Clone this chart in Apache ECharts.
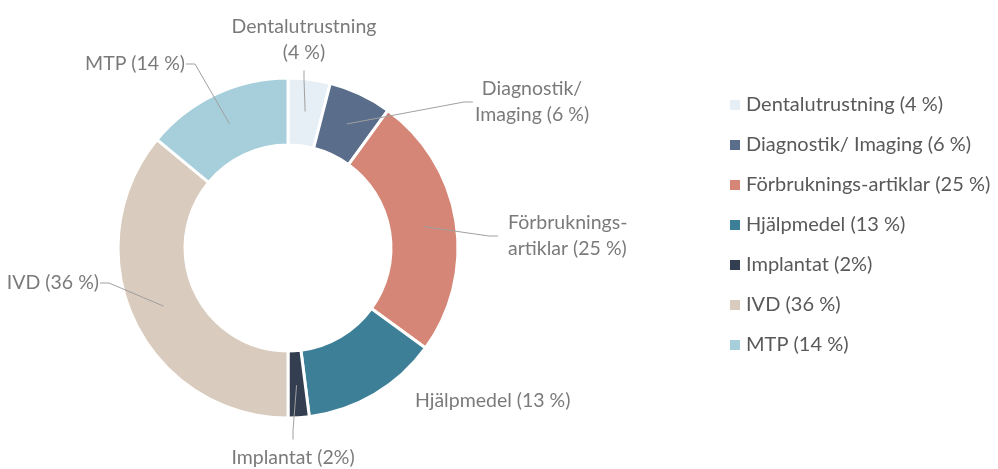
<!DOCTYPE html>
<html><head><meta charset="utf-8">
<script src="https://cdn.jsdelivr.net/npm/echarts@6/dist/echarts.min.js"></script>
<style>html,body{margin:0;padding:0;background:#fff}#c{width:998px;height:469px}</style>
</head><body><div id="c"></div>
<script>
// ---- data ----
const categories = ['Dentalutrustning (4 %)','Diagnostik/ Imaging (6 %)','Förbruknings-artiklar (25 %)','Hjälpmedel (13 %)','Implantat (2%)','IVD (36 %)','MTP (14 %)'];
const labelTexts = ['Dentalutrustning\n(4 %)','Diagnostik/\nImaging (6 %)','Förbruknings-\nartiklar (25 %)','Hjälpmedel (13 %)','Implantat (2%)','IVD (36 %)','MTP (14 %)'];
const values = [4, 6, 25, 13, 2, 36, 14];
const colors = ['#e6eff6','#5a6d8b','#d58676','#3d7f97','#333f50','#d9cbbd','#a6cfdb'];

// ---- layout config (not data) ----
const CX = 288, CY = 248, R_IN = 103, R_OUT = 170, R_LINE = 137;
const FONT = 'Lato, "Open Sans", sans-serif';
// label anchor placement: [x, y, align, padding]
const labelPlace = [
  [304, 40, 'center', [0,0,9,0]],
  [532, 102, 'center', [0,2,0,2]],
  [498, 236, 'left', [0,0,0,10]],
  [415, 401, 'left', [0,0,0,0]],
  [293, 458, 'center', [11,0,0,0]],
  [100, 283, 'right', [0,1,0,0]],
  [186, 64, 'right', [0,1,0,0]]
];

const total = values.reduce((a,b)=>a+b,0);
const midValues = values.map((v,i)=>values.slice(0,i).reduce((a,b)=>a+b,0) + v/2);

const chart = echarts.init(document.getElementById('c'), null, {renderer:'canvas'});

chart.setOption({
  animation:false,
  color: colors,
  polar:{center:[CX, CY], radius:R_OUT},
  angleAxis:{type:'value', min:0, max:total, startAngle:90, clockwise:true, show:false},
  radiusAxis:{type:'value', min:0, max:R_OUT, show:false},
  legend:{
    orient:'vertical', left:728, top:95, padding:0,
    itemWidth:12, itemHeight:12, itemGap:20, icon:'rect',
    textStyle:{fontFamily:FONT, fontSize:20, color:'#595959', lineHeight:20},
    data: categories
  },
  series:[{
    type:'pie',
    center:[CX, CY],
    radius:[R_IN, R_OUT],
    startAngle:90,
    clockwise:true,
    avoidLabelOverlap:false,
    itemStyle:{borderColor:'#fff', borderWidth:3},
    emphasis:{disabled:true},
    label:{show:false},
    labelLine:{show:false},
    data: categories.map((n,i)=>({name:n, value:values[i]}))
  },{
    type:'scatter',
    coordinateSystem:'polar',
    symbolSize:1,
    itemStyle:{color:'rgba(0,0,0,0)'},
    silent:true,
    emphasis:{disabled:true},
    label:{
      show:true, position:'top',
      fontFamily:FONT, fontSize:19.5, color:'#595959', lineHeight:26,
      formatter:(p)=>labelTexts[p.dataIndex]
    },
    labelLine:{show:true, length2:9, minTurnAngle:0, lineStyle:{color:'#a0a0a0', width:1}},
    labelLayout:function(params){
      const pl = labelPlace[params.dataIndex];
      return {x:pl[0], y:pl[1], align:pl[2], verticalAlign:'middle'};
    },
    data: midValues.map((m,i)=>({
      value:[R_LINE, m],
      label:{padding:labelPlace[i][3]},
      labelLine: i===3 ? {show:false} : undefined
    }))
  }]
});
</script></body></html>
